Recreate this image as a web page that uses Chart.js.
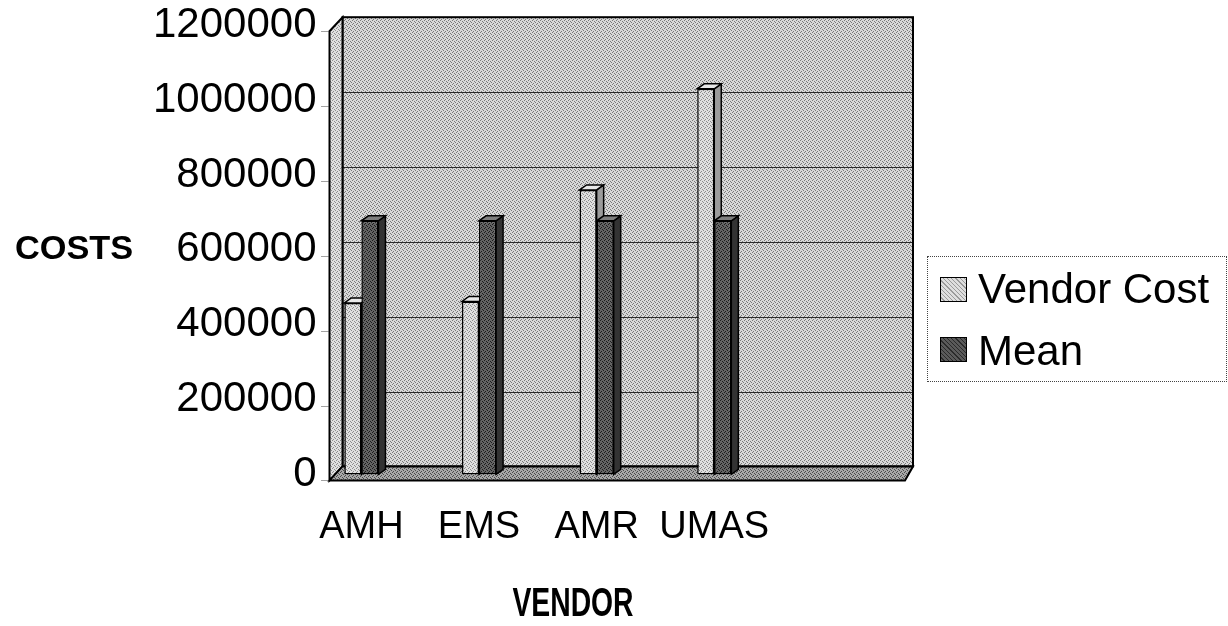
<!DOCTYPE html>
<html>
<head>
<meta charset="utf-8">
<script src="https://cdn.jsdelivr.net/npm/chart.js@4.4.1/dist/chart.umd.min.js"></script>
<style>
  body { margin: 0; background: #fff; font-family: 'Liberation Sans', Arial, sans-serif; }
  #wrap { position: relative; width: 1228px; height: 626px; }
  .ttl { position: absolute; font-weight: bold; color: #000; white-space: nowrap; line-height: 1; }
  #costs { left: 15px; top: 231px; font-size: 33px; transform-origin: 0 50%; transform: scaleX(1.04); }
  #vendor { left: 573px; top: 582px; font-size: 41px; transform: translateX(-50%) scaleX(0.69); }
  #legend { position: absolute; left: 927px; top: 256px; width: 298px; height: 124px; border: 1px dotted #444; }
  .item { position: absolute; left: 50px; font-size: 42px; line-height: 1; white-space: nowrap; }
  .sw { position: absolute; left: 12px; width: 25px; height: 23px; border: 1px solid #000; }
</style>
</head>
<body>
<div id="wrap">
  <canvas id="chart" width="1228" height="626"></canvas>
  <div class="ttl" id="costs">COSTS</div>
  <div class="ttl" id="vendor">VENDOR</div>
  <div id="legend"></div>
</div>
<script>
const categories = ['AMH', 'EMS', 'AMR', 'UMAS']
const vendorCost = [458000, 462000, 760000, 1030000]
const meanCost = [677500, 677500, 677500, 677500]
const yTicks = [0, 200000, 400000, 600000, 800000, 1000000, 1200000]
const seriesNames = ['Vendor Cost', 'Mean']

Chart.defaults.font.family = "'Liberation Sans', Arial, sans-serif"
Chart.defaults.color = '#000'

// small dithered tile, looks a bit like the printed halftone
function dots(base, dark) {
  const c = document.createElement('canvas')
  c.width = 4; c.height = 4
  const g = c.getContext('2d')
  g.fillStyle = base; g.fillRect(0, 0, 4, 4)
  g.fillStyle = dark
  g.fillRect(0, 0, 1, 1); g.fillRect(2, 1, 1, 1); g.fillRect(1, 3, 1, 1); g.fillRect(3, 2, 1, 1)
  return g.createPattern(c, 'repeat')
}

const backFill = dots('#d8d8d8', '#787878')
const leftFill = dots('#e0e0e0', '#8c8c8c')
const floorFill = dots('#a8a8a8', '#4a4a4a')
const frontFill = [dots('#e0e0e0', '#8c8c8c'), dots('#646464', '#1c1c1c')]
const topFill = ['#e8e8e8', '#7e7e7e']
const sideFill = ['#9c9c9c', '#333333']

function poly(ctx, pts, fill) {
  ctx.beginPath()
  pts.forEach((p, i) => i ? ctx.lineTo(p[0], p[1]) : ctx.moveTo(p[0], p[1]))
  ctx.closePath()
  if (fill) { ctx.fillStyle = fill; ctx.fill() }
  ctx.stroke()
}

const walls = {
  id: 'walls',
  beforeDraw(chart) {
    const {ctx, chartArea: a, scales: {y}} = chart
    const L = a.left, R = a.right, T = a.top, B = a.bottom
    ctx.save()
    ctx.strokeStyle = '#000'
    ctx.lineWidth = 2
    // back wall
    ctx.fillStyle = backFill
    ctx.fillRect(L + 7, T - 8, R - L, B - T)
    ctx.lineWidth = 1
    ctx.strokeStyle = '#2a2a2a'
    yTicks.forEach(v => {
      const py = Math.round(y.getPixelForValue(v) - 8) + 0.5
      ctx.beginPath(); ctx.moveTo(L + 7, py); ctx.lineTo(R + 7, py); ctx.stroke()
    })
    ctx.lineWidth = 2
    ctx.strokeStyle = '#000'
    ctx.strokeRect(L + 7, T - 8, R - L, B - T)
    // left wall and floor
    poly(ctx, [[L - 6, B + 6], [L - 6, T + 6], [L + 7, T - 8], [L + 7, B - 8]], leftFill)
    poly(ctx, [[L - 6, B + 6], [R - 1, B + 6], [R + 7, B - 8], [L + 7, B - 8]], floorFill)
    // little dotted ticks on the front edge
    ctx.lineWidth = 1
    ctx.setLineDash([1, 1])
    ctx.strokeStyle = '#444'
    yTicks.forEach(v => {
      const py = Math.round(y.getPixelForValue(v) + 6) + 0.5
      ctx.beginPath(); ctx.moveTo(L - 14, py); ctx.lineTo(L - 6, py); ctx.stroke()
    })
    ctx.restore()
  },
  beforeDatasetsDraw(chart) {
    const ctx = chart.ctx
    ctx.save()
    ctx.strokeStyle = '#000'
    ctx.lineWidth = 1.5
    chart.data.datasets.forEach((ds, di) => {
      chart.getDatasetMeta(di).data.forEach(bar => {
        const {x, y, base, width} = bar.getProps(['x', 'y', 'base', 'width'], true)
        const l = x - width / 2, r = x + width / 2
        poly(ctx, [[r, y], [r + 7, y - 5], [r + 7, base - 5], [r, base]], sideFill[di])
        poly(ctx, [[l, y], [r, y], [r + 7, y - 5], [l + 7, y - 5]], topFill[di])
      })
    })
    ctx.restore()
  }
}

new Chart(document.getElementById('chart'), {
  type: 'bar',
  data: {
    labels: categories.map((c, i) => i),
    datasets: [
      {label: seriesNames[0], data: vendorCost, backgroundColor: frontFill[0]},
      {label: seriesNames[1], data: meanCost, backgroundColor: frontFill[1]}
    ]
  },
  options: {
    responsive: false,
    animation: false,
    layout: {padding: {left: 153, right: 322, top: 0, bottom: 46}},
    datasets: {
      bar: {borderColor: '#000', borderWidth: 1.5, borderSkipped: false, barPercentage: 1, categoryPercentage: 0.29}
    },
    plugins: {legend: {display: false}, tooltip: {enabled: false}},
    scales: {
      x: {
        type: 'linear',
        offset: false,
        min: -0.22,
        max: 4.63,
        grid: {display: false, drawTicks: false, offset: false},
        border: {display: false},
        afterBuildTicks: s => { s.ticks = categories.map((c, i) => ({value: i})) },
        ticks: {autoSkip: false, maxRotation: 0, padding: 30, font: {size: 38}, callback: v => categories[v]}
      },
      y: {
        min: 0,
        max: 1200000,
        // gap between labels and wall comes from an invisible tick length
        grid: {display: false, drawTicks: true, tickLength: 19},
        border: {display: false},
        afterBuildTicks: s => { s.ticks = yTicks.map(v => ({value: v})) },
        ticks: {padding: 0, font: {size: 42}, callback: v => String(v)}
      }
    }
  },
  plugins: [walls]
})

// legend as plain html, boxed like the original
const legend = document.getElementById('legend')
seriesNames.forEach((name, i) => {
  const sw = document.createElement('div')
  sw.className = 'sw'
  sw.style.top = (20 + i * 60) + 'px'
  sw.style.background = i ? 'repeating-linear-gradient(45deg,#5a5a5a 0 2px,#2a2a2a 2px 3px)' : 'repeating-linear-gradient(45deg,#dedede 0 2px,#9a9a9a 2px 3px)'
  legend.appendChild(sw)
  const t = document.createElement('div')
  t.className = 'item'
  t.style.top = (11 + i * 62) + 'px'
  t.textContent = name
  legend.appendChild(t)
})
</script>
</body>
</html>
